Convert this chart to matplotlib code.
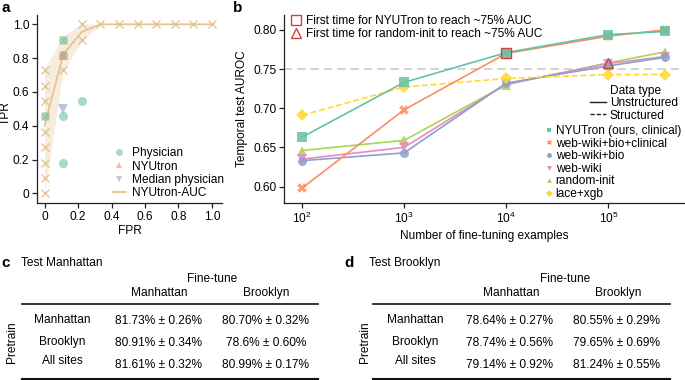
import matplotlib.pyplot as plt
from matplotlib.lines import Line2D
from matplotlib.ticker import NullLocator

plt.rcParams['font.family'] = ['Liberation Sans', 'DejaVu Sans']
plt.rcParams['font.size'] = 8.6
plt.rcParams['mathtext.fontset'] = 'custom'
plt.rcParams['mathtext.rm'] = 'Liberation Sans'

W, H = 685, 380

# ---- panel a data (ROC) ----
roc_fpr = [0, 0, 0, 0, 0, 0, 0, 0, 0, 0.111, 0.111, 0.111, 0.222, 0.222,
           0.333, 0.444, 0.556, 0.667, 0.778, 0.889, 1.0]
roc_tpr = [0, 0.091, 0.182, 0.273, 0.364, 0.455, 0.545, 0.636, 0.727,
           0.727, 0.818, 0.909, 0.909, 1.0, 1.0, 1.0, 1.0, 1.0, 1.0, 1.0, 1.0]
auc_fpr = [0, 0.111, 0.222, 0.333, 0.444, 0.556, 0.667, 0.778, 0.889, 1.0]
auc_mean = [0.40, 0.82, 0.955, 1.0, 1.0, 1.0, 1.0, 1.0, 1.0, 1.0]
auc_lo = [0.0, 0.72, 0.90, 1.0, 1.0, 1.0, 1.0, 1.0, 1.0, 1.0]
auc_hi = [0.74, 0.93, 1.0, 1.0, 1.0, 1.0, 1.0, 1.0, 1.0, 1.0]
phys_fpr = [0, 0.111, 0.111, 0.111, 0.111, 0.222]
phys_tpr = [0.455, 0.909, 0.818, 0.455, 0.182, 0.545]
nyu_fpr, nyu_tpr = [0.111], [0.818]
med_fpr, med_tpr = [0.111], [0.5]

# ---- panel b data ----
n_examples = [100, 1000, 10000, 100000, 360000]
series_names = ['NYUTron (ours, clinical)', 'web-wiki+bio+clinical', 'web-wiki+bio',
                'web-wiki', 'random-init', 'lace+xgb']
nyutron = [0.663, 0.733, 0.771, 0.794, 0.798]
wwbc = [0.598, 0.698, 0.770, 0.792, 0.800]
wwb = [0.633, 0.643, 0.732, 0.754, 0.765]
ww = [0.635, 0.650, 0.731, 0.757, 0.766]
rand_init = [0.646, 0.659, 0.730, 0.758, 0.772]
lace = [0.691, 0.727, 0.738, 0.743, 0.743]
first_nyu = (10000, 0.771)
first_rand = (100000, 0.758)

# ---- tables ----
tab_cols = ['Manhattan', 'Brooklyn']
tab_rows = ['Manhattan', 'Brooklyn', 'All sites']
test_manhattan = [['81.73% ± 0.26%', '80.70% ± 0.32%'],
                  ['80.91% ± 0.34%', '78.6% ± 0.60%'],
                  ['81.61% ± 0.32%', '80.99% ± 0.17%']]
test_brooklyn = [['78.64% ± 0.27%', '80.55% ± 0.29%'],
                 ['78.74% ± 0.56%', '79.65% ± 0.69%'],
                 ['79.14% ± 0.92%', '81.24% ± 0.55%']]

teal, orange, blue, pink, green, yellow, tan = ('#66c2a5', '#fc8d62', '#8da0cb',
                                                '#e78ac3', '#a6d854', '#ffd92f', '#e5c494')
red = '#d43f3f'

fig = plt.figure(figsize=(W / 100, H / 100), dpi=100)


def px_axes(x0, y0, x1, y1):
    return fig.add_axes([x0 / W, 1 - y1 / H, (x1 - x0) / W, (y1 - y0) / H])


def style(ax):
    for s in ['top', 'right']:
        ax.spines[s].set_visible(False)
    for s in ['left', 'bottom']:
        ax.spines[s].set_linewidth(0.9)
        ax.spines[s].set_color('#222222')
    ax.tick_params(direction='out', length=3.5, width=0.9, color='#222222', pad=2)


# ---- panel a ----
ax = px_axes(37, 15, 222, 203)
style(ax)
ax.fill_between(auc_fpr, auc_lo, auc_hi, color=tan, alpha=0.3, lw=0)
ax.plot(auc_fpr, auc_mean, color=tan, lw=1.3)
ax.plot(roc_fpr, roc_tpr, ls='none', marker='x', ms=5.5, mew=1.0, color=tan)
ax.plot(phys_fpr, phys_tpr, ls='none', marker='o', ms=6.5, color=teal, alpha=0.6, mew=0)
ax.plot(nyu_fpr, nyu_tpr, ls='none', marker='^', ms=6.5, color=orange, alpha=0.6, mew=0)
ax.plot(med_fpr, med_tpr, ls='none', marker='v', ms=6.5, color=blue, alpha=0.6, mew=0)
ax.set_xlim(-0.045, 1.06)
ax.set_ylim(-0.057, 1.055)
ax.set_xticks([0, 0.2, 0.4, 0.6, 0.8, 1.0])
ax.set_xticklabels(['0', '0.2', '0.4', '0.6', '0.8', '1.0'])
ax.set_yticks([0, 0.2, 0.4, 0.6, 0.8, 1.0])
ax.set_yticklabels(['0', '0.2', '0.4', '0.6', '0.8', '1.0'])
ax.set_xlabel('FPR', labelpad=2)
ax.set_ylabel('TPR')
ax.yaxis.set_label_coords(-25 / 185, 0.48)
hand_a = [Line2D([], [], ls='none', marker='o', ms=5, color=teal, alpha=0.6, mew=0),
          Line2D([], [], ls='none', marker='^', ms=5, color=orange, alpha=0.6, mew=0),
          Line2D([], [], ls='none', marker='v', ms=5, color=blue, alpha=0.6, mew=0),
          Line2D([], [], color=tan, lw=1.3)]
ax.legend(hand_a, ['Physician', 'NYUtron', 'Median physician', 'NYUtron-AUC'],
          loc='lower right', bbox_to_anchor=(224 / W, 1 - 199 / H), bbox_transform=fig.transFigure,
          frameon=False, borderpad=0, borderaxespad=0, handlelength=1.1, handletextpad=0.5,
          labelspacing=0.1)

# ---- panel b ----
bx = px_axes(284, 15, 684, 203)
style(bx)
bx.set_xscale('log')
bx.axhline(0.75, color='#cccccc', lw=1.2, ls=(0, (5, 3)))
vals = [nyutron, wwbc, wwb, ww, rand_init, lace]
cols = [teal, orange, blue, pink, green, yellow]
marks = ['s', 'X', 'o', 'v', '^', 'D']
order = [4, 3, 2, 5, 1, 0]
for i in order:
    bx.plot(n_examples, vals[i], color=cols[i], lw=1.2, ls='--' if i == 5 else '-', zorder=2)
    bx.plot(n_examples, vals[i], ls='none', marker=marks[i], ms=6.5, color=cols[i],
            alpha=0.85, mew=0, zorder=3)
bx.plot([first_nyu[0]], [first_nyu[1]], ls='none', marker='s', ms=7.5, mfc='none',
        mec=red, mew=1.0, zorder=4)
bx.plot([first_rand[0]], [first_rand[1]], ls='none', marker='^', ms=7.5, mfc='none',
        mec=red, mew=1.0, zorder=4)
bx.set_xlim(10 ** 1.824, 10 ** 5.74)
bx.set_ylim(0.579, 0.819)
bx.set_xticks([100, 1000, 10000, 100000])
bx.set_xticklabels([r'$\mathregular{10^{2}}$', r'$\mathregular{10^{3}}$',
                    r'$\mathregular{10^{4}}$', r'$\mathregular{10^{5}}$'])
bx.xaxis.set_minor_locator(NullLocator())
bx.set_yticks([0.60, 0.65, 0.70, 0.75, 0.80])
bx.set_yticklabels(['0.60', '0.65', '0.70', '0.75', '0.80'])
bx.set_xlabel('Number of fine-tuning examples', labelpad=3)
bx.set_ylabel('Temporal test AUROC', labelpad=4)

h_first = [Line2D([], [], ls='none', marker='s', ms=7, mfc='none', mec=red, mew=1.0),
           Line2D([], [], ls='none', marker='^', ms=7, mfc='none', mec=red, mew=1.0)]
leg1 = bx.legend(h_first, ['First time for NYUTron to reach ~75% AUC',
                           'First time for random-init to reach ~75% AUC'],
                 loc='upper left', bbox_to_anchor=(291 / W, 1 - 15 / H),
                 bbox_transform=fig.transFigure, frameon=False, borderpad=0,
                 borderaxespad=0, handlelength=0.9, handletextpad=0.35, labelspacing=0.1)
bx.add_artist(leg1)

fig.text(610 / W, 1 - 90.7 / H, 'Data type', ha='left', va='center')
h_type = [Line2D([], [], color='#222222', lw=1.0),
          Line2D([], [], color='#222222', lw=1.0, ls=(0, (3, 1.5)))]
leg2 = bx.legend(h_type, ['Unstructured', 'Structured'], loc='upper left',
                 bbox_to_anchor=(590 / W, 1 - 97 / H), bbox_transform=fig.transFigure,
                 frameon=False, borderpad=0, borderaxespad=0, handlelength=1.3,
                 handletextpad=0.35, labelspacing=0.05)
bx.add_artist(leg2)

h_ser = [Line2D([], [], ls='none', marker=marks[i], ms=3.5, color=cols[i], mew=0)
         for i in range(6)]
bx.legend(h_ser, series_names, loc='upper left', bbox_to_anchor=(546 / W, 1 - 125 / H),
          bbox_transform=fig.transFigure, frameon=False, borderpad=0, borderaxespad=0,
          handlelength=0.5, handletextpad=0.3, labelspacing=0.05)

# ---- tables c, d ----
tx = fig.add_axes([0, 0, 1, 1])
tx.set_xlim(0, W)
tx.set_ylim(H, 0)
tx.axis('off')


def draw_table(x0, title, letter, lx, line_x, hdr_x, row_x, val_x, data):
    tx.text(lx, 262.7, letter, fontsize=11, fontweight='bold', ha='left', va='center')
    tx.text(x0, 262.7, title, ha='left', va='center')
    tx.text((hdr_x[0] + hdr_x[1]) / 2, 279, 'Fine-tune', ha='center', va='center')
    for c, name in enumerate(tab_cols):
        tx.text(hdr_x[c], 292.7, name, ha='center', va='center')
    tx.plot(line_x, [304.3, 304.3], color='#111111', lw=1.2)
    tx.plot(line_x, [378.8, 378.8], color='#111111', lw=1.5)
    tx.text(row_x - 50, 342, 'Pretrain', rotation=90, ha='center', va='center')
    for r, name in enumerate(tab_rows):
        ry = [320, 341.5, 361.5][r]
        vy = [321.5, 343.3, 364.5][r]
        tx.text(row_x, ry, name, ha='center', va='center')
        for c in range(2):
            tx.text(val_x[c], vy, data[r][c], ha='center', va='center')


draw_table(20.7, 'Test Manhattan', 'c', 1, [21.7, 318.3], [159, 265.7], 62.3,
           [158.3, 265.7], test_manhattan)
draw_table(369, 'Test Brooklyn', 'd', 344, [373.3, 670], [511, 618.3], 415,
           [510, 616.7], test_brooklyn)

fig.text(1 / W, 1 - 8.5 / H, 'a', fontsize=11, fontweight='bold', ha='left', va='center')
fig.text(233 / W, 1 - 8.5 / H, 'b', fontsize=11, fontweight='bold', ha='left', va='center')

fig.savefig('out.png', dpi=100)
